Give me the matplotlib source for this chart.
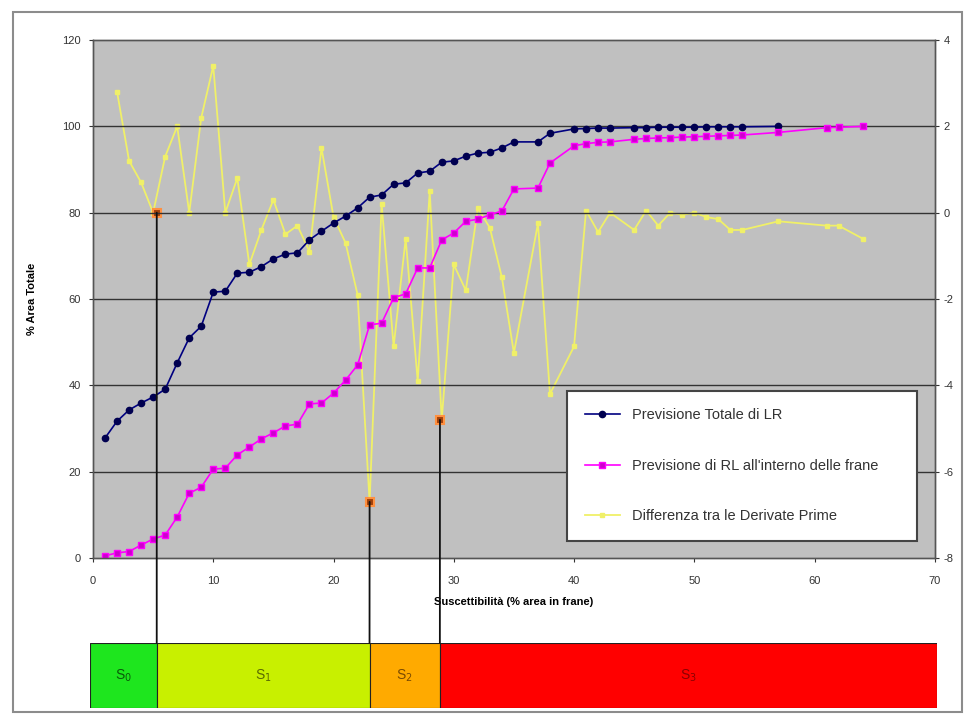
import matplotlib
matplotlib.use('Agg')
import matplotlib.pyplot as plt
from matplotlib.patches import ConnectionPatch, Rectangle

plt.rcParams['font.family'] = ['Liberation Sans', 'DejaVu Sans']
plt.rcParams['axes.unicode_minus'] = False

# ---- data ----
x_lr = [1, 2, 3, 4, 5, 6, 7, 8, 9, 10, 11, 12, 13, 14, 15, 16, 17, 18, 19, 20,
        21, 22, 23, 24, 25, 26, 27, 28, 29, 30, 31, 32, 33, 34, 35, 37, 38, 40,
        41, 42, 43, 45, 46, 47, 48, 49, 50, 51, 52, 53, 54, 57]
lr_tot = [27.8, 31.7, 34.3, 35.9, 37.3, 39.1, 45.2, 51.0, 53.7, 61.6, 61.8, 66.0,
          66.2, 67.5, 69.3, 70.4, 70.7, 73.7, 75.7, 77.6, 79.2, 81.1, 83.6, 84.1,
          86.6, 86.9, 89.2, 89.6, 91.7, 92.0, 93.1, 93.8, 94.0, 95.0, 96.4, 96.4,
          98.4, 99.4, 99.5, 99.6, 99.6, 99.7, 99.7, 99.8, 99.8, 99.8, 99.8, 99.9,
          99.9, 99.9, 99.9, 100.0]

x_rl = x_lr + [61, 62, 64]
rl_frane = [0.5, 1.2, 1.5, 3.0, 4.4, 5.3, 9.5, 15.0, 16.4, 20.6, 20.8, 23.9, 25.7,
            27.6, 29.0, 30.6, 31.0, 35.7, 35.9, 38.2, 41.2, 44.7, 54.0, 54.4, 60.3,
            61.2, 67.2, 67.2, 73.7, 75.3, 78.0, 78.5, 79.5, 80.4, 85.5, 85.7, 91.5,
            95.5, 96.0, 96.3, 96.4, 97.0, 97.2, 97.3, 97.4, 97.5, 97.6, 97.7, 97.8,
            97.9, 98.0, 98.6, 99.7, 99.8, 100.0]

x_diff = [2, 3, 4, 5, 6, 7, 8, 9, 10, 11, 12, 13, 14, 15, 16, 17, 18, 19, 20, 21,
          22, 23, 24, 25, 26, 27, 28, 29, 30, 31, 32, 33, 34, 35, 37, 38, 40, 41,
          42, 43, 45, 46, 47, 48, 49, 50, 51, 52, 53, 54, 57, 61, 62, 64]
diff = [2.8, 1.2, 0.7, 0.0, 1.3, 2.0, 0.0, 2.2, 3.4, 0.0, 0.8, -1.2, -0.4, 0.3,
        -0.5, -0.3, -0.9, 1.5, -0.1, -0.7, -1.9, -6.7, 0.2, -3.1, -0.6, -3.9, 0.5,
        -4.8, -1.2, -1.8, 0.1, -0.35, -1.5, -3.25, -0.25, -4.2, -3.1, 0.05, -0.45,
        0.0, -0.4, 0.05, -0.3, 0.0, -0.05, 0.0, -0.1, -0.15, -0.4, -0.4, -0.2,
        -0.3, -0.3, -0.6]

# soglie tra le classi e valori della differenza nei punti scelti
soglie = [5.3, 23.0, 28.85]
soglie_val = [0.0, -6.7, -4.8]

classi = ['S$_0$', 'S$_1$', 'S$_2$', 'S$_3$']
classi_lim = [-0.25, 5.3, 23.0, 28.85, 70.2]
classi_col = ['#1ee61e', '#c8f000', '#ffaa00', '#ff0000']
classi_txt = ['#0a5a0a', '#5a6a00', '#7a4a00', '#8a0000']

# ---- figure ----
fig = plt.figure(figsize=(9.72, 7.2), dpi=100)
fig.patches.append(Rectangle((13 / 972, 1 - 712 / 720), 949 / 972, 700 / 720,
                             transform=fig.transFigure, fill=False,
                             edgecolor='#8c8c8c', lw=1.5))

ax2 = fig.add_axes([0.0957, 0.225, 0.866, 0.7194])
ax1 = ax2.twinx()
# serie principali sopra la differenza
ax1.yaxis.tick_left()
ax1.yaxis.set_label_position('left')
ax2.yaxis.tick_right()
ax2.set_facecolor('#c0c0c0')
ax1.patch.set_visible(False)
ax1.set_zorder(ax2.get_zorder() + 1)

ax2.plot(x_diff, diff, color='#f0f068', lw=1.3, marker='s', ms=3.5,
         mec='#f0f068', label='Differenza tra le Derivate Prime')
ax2.plot(soglie, soglie_val, ls='none', marker='s', ms=6, mfc='#a0400a',
         mec='#ff9040', mew=1.5, zorder=5)
ax2.set_ylim(-8, 4)
ax2.set_yticks(range(-8, 5, 2))

ax1.plot(x_lr, lr_tot, color='#000080', lw=1.2, marker='o', ms=4.5,
         mfc='#000050', mec='#000050', label='Previsione Totale di LR')
ax1.plot(x_rl, rl_frane, color='#ff00ff', lw=1.2, marker='s', ms=5,
         mfc='#cc00cc', mec='#ff00ff', label="Previsione di RL all'interno delle frane")
ax1.set_ylim(0, 120)
ax1.set_yticks(range(0, 121, 20))
ax1.set_xlim(0, 70)
ax1.set_xticks(range(0, 71, 10))
for y in range(20, 101, 20):
    ax1.axhline(y, color='#333333', lw=1.0, zorder=0)

for a in (ax1, ax2):
    a.tick_params(labelsize=8, length=3, direction='out', color='#333333',
                  labelcolor='#333333')
    for s in a.spines.values():
        s.set_color('#555555')
        s.set_linewidth(1.0)
ax2.tick_params(axis='x', pad=10)
ax1.tick_params(axis='y', pad=6)

ax1.set_ylabel('% Area Totale', fontsize=8, fontweight='bold', labelpad=18)
ax2.set_xlabel('Suscettibilità (% area in frane)', fontsize=8, fontweight='bold',
               labelpad=8)

h1, l1 = ax1.get_legend_handles_labels()
h2, l2 = ax2.get_legend_handles_labels()
leg = ax1.legend(h1 + h2, l1 + l2, loc='lower left',
                 bbox_to_anchor=(0.555, 0.019, 0.433, 0.3), mode='expand',
                 fontsize=10.5, labelspacing=2.5, borderpad=1.2, handlelength=2.4,
                 frameon=True, fancybox=False, framealpha=1, edgecolor='#444444')
leg.get_frame().set_linewidth(1.5)
for t in leg.get_texts():
    t.set_color('#333333')

# ---- barra delle classi ----
axb = fig.add_axes([0.0926, 0.0167, 0.8714, 0.0903])
axb.set_xlim(classi_lim[0], classi_lim[-1])
axb.set_ylim(0, 1)
axb.axis('off')
for i, nome in enumerate(classi):
    x0, x1 = classi_lim[i], classi_lim[i + 1]
    axb.axvspan(x0, x1, color=classi_col[i], ec='#222222', lw=0.8)
    axb.text((x0 + x1) / 2, 0.5, nome, ha='center', va='center', fontsize=10,
             color=classi_txt[i])

# linee verticali dai punti alla barra
for xs, ys in zip(soglie, soglie_val):
    cp = ConnectionPatch(xyA=(xs, ys), coordsA=ax2.transData,
                         xyB=(xs, 1), coordsB=axb.get_xaxis_transform(),
                         color='#111111', lw=1.3, zorder=3)
    fig.add_artist(cp)

fig.savefig('out.png', dpi=100)
